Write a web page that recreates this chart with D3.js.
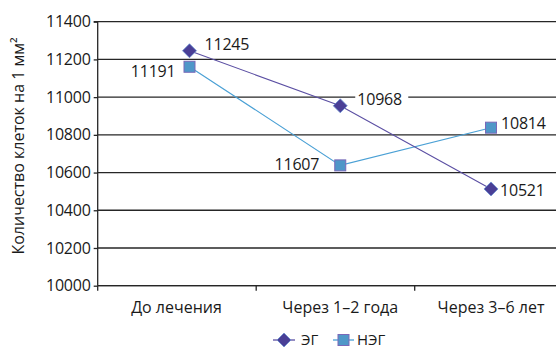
<!DOCTYPE html>
<html><head><meta charset="utf-8">
<script src="https://cdn.jsdelivr.net/npm/d3@7"></script>
<style>html,body{margin:0;padding:0;background:#fff;overflow:hidden}text{font-family:"Open Sans",sans-serif}</style>
</head><body><svg id="c" width="556" height="351"></svg>
<script>
const categories = ["До лечения", "Через 1–2 года", "Через 3–6 лет"];
const seriesNames = ["ЭГ", "НЭГ"];
const egValues = [11246, 10954, 10513];
const negValues = [11161, 10638, 10838];
const egLabels = ["11245", "10968", "10521"];
const negLabels = ["11191", "11607", "10814"];
const yTicks = [10000, 10200, 10400, 10600, 10800, 11000, 11200, 11400];
const yTitle = "Количество клеток на 1 мм²";

const svg = d3.select("#c");
const x0 = 97.7, yTop = 21.7, yBot = 285.7;
const band = d3.scaleBand().domain(categories).range([x0, x0 + 3*158.5]).paddingInner(0).paddingOuter(0);
const xp = d3.scalePoint().domain(categories).range([189.5, 491]);
const y = d3.scaleLinear().domain([10000, 11400]).range([yBot, yTop]);
const ink = "#1a1a1a";

// gridlines
svg.append("g").selectAll("line").data(yTicks).join("line")
  .attr("x1", x0).attr("x2", 556).attr("y1", d => y(d)).attr("y2", d => y(d))
  .attr("stroke", "#262626").attr("stroke-width", 1.3);

// y axis
const ya = d3.axisLeft(y).tickValues(yTicks).tickSize(4).tickPadding(3).tickFormat(d3.format("d"));
const gy = svg.append("g").attr("transform", `translate(${x0},0)`).call(ya);
gy.select(".domain").attr("stroke", "#262626").attr("stroke-width", 1.3).attr("d", `M-4,${yTop}H0V${yBot}`);
gy.selectAll(".tick line").attr("stroke", "#262626").attr("stroke-width", 1.3);
gy.selectAll(".tick text").attr("font-size", 16).attr("fill", ink).attr("font-family", "Open Sans").attr("letter-spacing", -0.2);

// x axis
const gx = svg.append("g").attr("transform", `translate(0,${yBot})`);
gx.append("line").attr("x1", x0).attr("x2", 556).attr("y1", 0).attr("y2", 0).attr("stroke", "#262626").attr("stroke-width", 1.3);
const bounds = categories.map(c => band(c));
gx.selectAll(".tk").data(bounds).join("line").attr("class", "tk")
  .attr("x1", d => d).attr("x2", d => d).attr("y1", 0).attr("y2", 5).attr("stroke", "#262626").attr("stroke-width", 1.3);
gx.selectAll(".cl").data(categories).join("text").attr("class", "cl")
  .attr("x", (d,i) => xp(d) + (i===0 ? -13 : 0))
  .attr("y", 27).attr("text-anchor", "middle").attr("font-size", 16).attr("fill", ink).text(d => d);

// y title
svg.append("text").attr("transform", `translate(24,146) rotate(-90)`).attr("text-anchor", "middle")
  .attr("font-size", 16).attr("fill", ink).text(yTitle);

const egColor = "#5b4fa3", egFill = "#4a3f96", negColor = "#4aa0d5", negFill = "#4f97c8";
const line = d3.line().x((d,i) => xp(categories[i])).y(d => y(d));
svg.append("path").datum(negValues).attr("d", line).attr("fill", "none").attr("stroke", negColor).attr("stroke-width", 1.1);
svg.append("path").datum(egValues).attr("d", line).attr("fill", "none").attr("stroke", egColor).attr("stroke-width", 1.1);

const diamond = (cx, cy, r) => `M${cx},${cy-r}L${cx+r},${cy}L${cx},${cy+r}L${cx-r},${cy}Z`;
svg.append("g").selectAll("rect").data(negValues).join("rect")
  .attr("x", (d,i) => xp(categories[i]) - 5.5).attr("y", d => y(d) - 5.5).attr("width", 11).attr("height", 11)
  .attr("fill", negFill).attr("stroke", "#7a68b8").attr("stroke-width", 1);
svg.append("g").selectAll("path").data(egValues).join("path")
  .attr("d", (d,i) => diamond(xp(categories[i]), y(d), 7))
  .attr("fill", egFill).attr("stroke", "#6a8fd0").attr("stroke-width", 0.8);

// data labels
const egLabPos = [{dx: 15, dy: -6, a: "start"}, {dx: 17, dy: -6, a: "start", bg: true}, {dx: 9, dy: 1.5, a: "start"}];
const negLabPos = [{dx: -14, dy: 5, a: "end"}, {dx: -21, dy: -1, a: "end"}, {dx: 10, dy: -4, a: "start"}];
function labels(vals, labs, pos) {
  vals.forEach((v, i) => {
    const cx = xp(categories[i]), cy = y(v), p = pos[i];
    if (p.bg) {
      svg.append("rect").attr("x", cx + p.dx - 2).attr("y", cy + p.dy - 10).attr("width", 53).attr("height", 18).attr("fill", "#fff");
    }
    svg.append("text").attr("x", cx + p.dx).attr("y", cy + p.dy).attr("dy", "0.35em")
      .attr("text-anchor", p.a).attr("font-size", 16).attr("fill", ink).attr("letter-spacing", -0.2).text(labs[i]);
  });
}
labels(egValues, egLabels, egLabPos);
labels(negValues, negLabels, negLabPos);

// legend
const ly = 340;
const lg = svg.append("g");
lg.append("line").attr("x1", 273).attr("x2", 295).attr("y1", ly).attr("y2", ly).attr("stroke", egColor).attr("stroke-width", 1.3);
lg.append("path").attr("d", diamond(284, ly, 7)).attr("fill", egFill).attr("stroke", "#6a8fd0").attr("stroke-width", 0.8);
lg.append("text").attr("x", 301).attr("y", ly).attr("dy", "0.35em").attr("font-size", 15).attr("fill", ink).text(seriesNames[0]);
lg.append("line").attr("x1", 333).attr("x2", 354).attr("y1", ly).attr("y2", ly).attr("stroke", negColor).attr("stroke-width", 1.3);
lg.append("rect").attr("x", 338).attr("y", ly - 5.5).attr("width", 11).attr("height", 11).attr("fill", negFill).attr("stroke", "#7a68b8").attr("stroke-width", 1);
lg.append("text").attr("x", 357).attr("y", ly).attr("dy", "0.35em").attr("font-size", 15).attr("fill", ink).text(seriesNames[1]);
</script></body></html>
